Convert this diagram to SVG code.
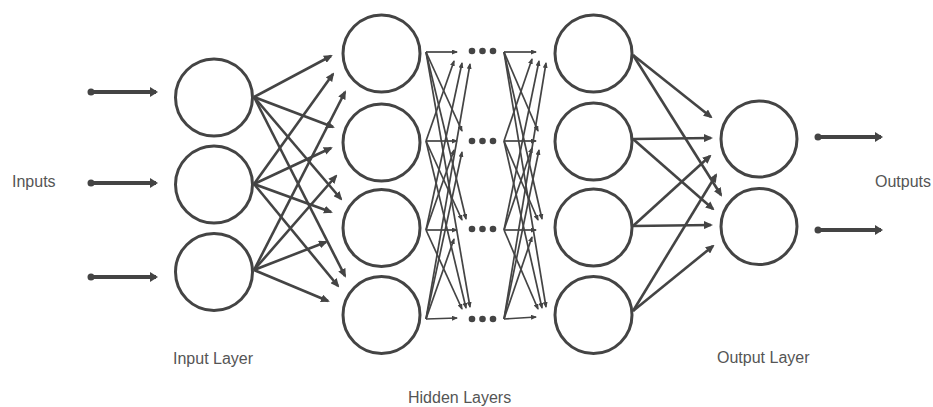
<svg xmlns="http://www.w3.org/2000/svg" width="933" height="407" viewBox="0 0 933 407">
  <style>
    .node { fill: #fff; stroke: #444; stroke-width: 3; }
    .io { stroke: #444; stroke-width: 4; fill: none; marker-end: url(#big); }
    .dot { fill: #444; }
    .c { stroke: #444; stroke-width: 2.6; fill: none; marker-end: url(#mid); }
    .f { stroke: #444; stroke-width: 1.7; fill: none; marker-end: url(#small); }
    .lbl { font-family: "Liberation Sans", Arial, sans-serif; font-size: 16px; fill: #555; }
  </style>
  <defs>
    <marker id="big" markerUnits="userSpaceOnUse" markerWidth="8" markerHeight="10" refX="6" refY="5" orient="auto">
      <path d="M0,0 L8,5 L0,10 z" fill="#444"/>
    </marker>
    <marker id="mid" markerUnits="userSpaceOnUse" markerWidth="9" markerHeight="8" refX="7" refY="4" orient="auto">
      <path d="M0,0 L9,4 L0,8 z" fill="#444"/>
    </marker>
    <marker id="small" markerUnits="userSpaceOnUse" markerWidth="6" markerHeight="5" refX="5" refY="2.5" orient="auto">
      <path d="M0,0 L6,2.5 L0,5 z" fill="#444"/>
    </marker>
  </defs>
  <rect width="933" height="407" fill="#fff"/>

  <g id="connectors">
    <!-- input arrows -->
    <circle class="dot" cx="91" cy="92" r="3.5"/>
    <line class="io" x1="91" y1="92" x2="156" y2="92"/>
    <circle class="dot" cx="91" cy="183" r="3.5"/>
    <line class="io" x1="91" y1="183" x2="156" y2="183"/>
    <circle class="dot" cx="91" cy="277" r="3.5"/>
    <line class="io" x1="91" y1="277" x2="156" y2="277"/>

    <!-- input layer to hidden layer 1 -->
    <line class="c" x1="254" y1="97" x2="331" y2="56"/>
    <line class="c" x1="254" y1="97" x2="333" y2="127"/>
    <line class="c" x1="254" y1="97" x2="341" y2="199"/>
    <line class="c" x1="254" y1="97" x2="345" y2="276"/>
    <line class="c" x1="254" y1="184" x2="333" y2="74"/>
    <line class="c" x1="254" y1="184" x2="331" y2="148"/>
    <line class="c" x1="254" y1="184" x2="331" y2="212"/>
    <line class="c" x1="254" y1="184" x2="338" y2="286"/>
    <line class="c" x1="254" y1="270" x2="345" y2="92"/>
    <line class="c" x1="254" y1="270" x2="336" y2="176"/>
    <line class="c" x1="254" y1="270" x2="326" y2="242"/>
    <line class="c" x1="254" y1="270" x2="328" y2="301"/>

    <!-- left fan (hidden layer 1 outwards) -->
    <line class="f" x1="426" y1="52" x2="457" y2="52"/>
    <line class="f" x1="426" y1="52" x2="462" y2="131"/>
    <line class="f" x1="426" y1="52" x2="466" y2="219"/>
    <line class="f" x1="426" y1="52" x2="470" y2="307"/>
    <line class="f" x1="426" y1="141" x2="454" y2="61"/>
    <line class="f" x1="426" y1="141" x2="457" y2="141"/>
    <line class="f" x1="426" y1="141" x2="462" y2="220"/>
    <line class="f" x1="426" y1="141" x2="466" y2="308"/>
    <line class="f" x1="426" y1="230" x2="462" y2="63"/>
    <line class="f" x1="426" y1="230" x2="454" y2="150"/>
    <line class="f" x1="426" y1="230" x2="457" y2="230"/>
    <line class="f" x1="426" y1="230" x2="462" y2="309"/>
    <line class="f" x1="426" y1="319" x2="470" y2="64"/>
    <line class="f" x1="426" y1="319" x2="462" y2="152"/>
    <line class="f" x1="426" y1="319" x2="454" y2="239"/>
    <line class="f" x1="426" y1="319" x2="457" y2="318"/>

    <!-- dots between hidden layers -->
    <circle class="dot" cx="472" cy="51" r="3.3"/>
    <circle class="dot" cx="482.5" cy="51" r="3.3"/>
    <circle class="dot" cx="493" cy="51" r="3.3"/>
    <circle class="dot" cx="472" cy="141" r="3.3"/>
    <circle class="dot" cx="482.5" cy="141" r="3.3"/>
    <circle class="dot" cx="493" cy="141" r="3.3"/>
    <circle class="dot" cx="472" cy="229" r="3.3"/>
    <circle class="dot" cx="482.5" cy="229" r="3.3"/>
    <circle class="dot" cx="493" cy="229" r="3.3"/>
    <circle class="dot" cx="472" cy="319" r="3.3"/>
    <circle class="dot" cx="482.5" cy="319" r="3.3"/>
    <circle class="dot" cx="493" cy="319" r="3.3"/>

    <!-- right fan (into hidden layer 2) -->
    <line class="f" x1="504" y1="52" x2="536" y2="52"/>
    <line class="f" x1="504" y1="52" x2="538" y2="131"/>
    <line class="f" x1="504" y1="52" x2="542" y2="219"/>
    <line class="f" x1="504" y1="52" x2="546" y2="307"/>
    <line class="f" x1="504" y1="141" x2="532" y2="59"/>
    <line class="f" x1="504" y1="141" x2="536" y2="141"/>
    <line class="f" x1="504" y1="141" x2="538" y2="220"/>
    <line class="f" x1="504" y1="141" x2="542" y2="308"/>
    <line class="f" x1="504" y1="230" x2="539" y2="61"/>
    <line class="f" x1="504" y1="230" x2="532" y2="148"/>
    <line class="f" x1="504" y1="230" x2="536" y2="230"/>
    <line class="f" x1="504" y1="230" x2="538" y2="309"/>
    <line class="f" x1="504" y1="319" x2="546" y2="63"/>
    <line class="f" x1="504" y1="319" x2="539" y2="150"/>
    <line class="f" x1="504" y1="319" x2="532" y2="237"/>
    <line class="f" x1="504" y1="319" x2="536" y2="317"/>

    <!-- hidden layer 2 to output layer -->
    <line class="c" x1="633" y1="55" x2="711" y2="117"/>
    <line class="c" x1="633" y1="55" x2="721" y2="195"/>
    <line class="c" x1="633" y1="139" x2="711" y2="138"/>
    <line class="c" x1="633" y1="139" x2="713" y2="209"/>
    <line class="c" x1="633" y1="226" x2="710" y2="156"/>
    <line class="c" x1="633" y1="226" x2="711" y2="225"/>
    <line class="c" x1="633" y1="311" x2="716" y2="175"/>
    <line class="c" x1="633" y1="311" x2="713" y2="246"/>

    <!-- output arrows -->
    <circle class="dot" cx="818" cy="137" r="3.5"/>
    <line class="io" x1="818" y1="137" x2="881" y2="137"/>
    <circle class="dot" cx="818" cy="230" r="3.5"/>
    <line class="io" x1="818" y1="230" x2="881" y2="230"/>
  </g>

  <g id="input-layer">
    <circle id="in1" class="node" cx="214" cy="97.5" r="38.5"/>
    <circle id="in2" class="node" cx="214" cy="184.5" r="38.5"/>
    <circle id="in3" class="node" cx="214" cy="272" r="38.5"/>
  </g>
  <g id="hidden-layer-1">
    <circle id="h1a" class="node" cx="381.5" cy="53.5" r="38.5"/>
    <circle id="h1b" class="node" cx="381.5" cy="142.5" r="38.5"/>
    <circle id="h1c" class="node" cx="381.5" cy="228" r="38.5"/>
    <circle id="h1d" class="node" cx="381.5" cy="315" r="38.5"/>
  </g>
  <g id="hidden-layer-2">
    <circle id="h2a" class="node" cx="593.5" cy="53.5" r="38.5"/>
    <circle id="h2b" class="node" cx="593.5" cy="141.5" r="38.5"/>
    <circle id="h2c" class="node" cx="593.5" cy="227.5" r="38.5"/>
    <circle id="h2d" class="node" cx="593.5" cy="315" r="38.5"/>
  </g>
  <g id="output-layer">
    <circle id="out1" class="node" cx="759" cy="139" r="38"/>
    <circle id="out2" class="node" cx="759" cy="226.5" r="38"/>
  </g>

  <g id="labels">
    <text class="lbl" x="12" y="187">Inputs</text>
    <text class="lbl" x="875" y="187">Outputs</text>
    <text class="lbl" x="173" y="364">Input Layer</text>
    <text class="lbl" x="717" y="363">Output Layer</text>
    <text class="lbl" x="408" y="403">Hidden Layers</text>
  </g>
</svg>
